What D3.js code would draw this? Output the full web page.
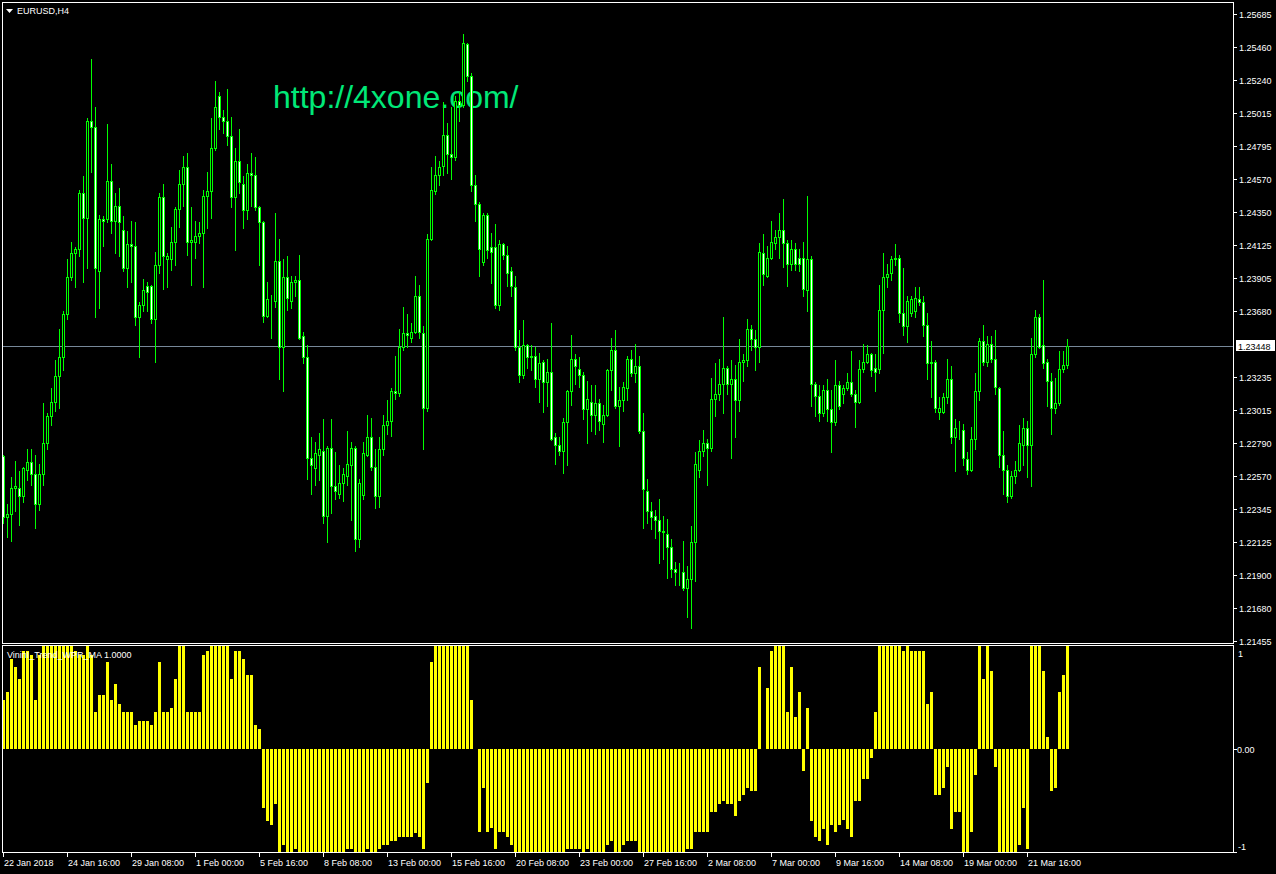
<!DOCTYPE html>
<html>
<head>
<meta charset="utf-8">
<script src="https://cdn.jsdelivr.net/npm/d3@7"></script>
<style>
  html, body { margin: 0; padding: 0; background: #000; }
  svg { display: block; }
  text { font-family: "Liberation Sans", Arial, sans-serif; font-size: 9px; fill: #fff; }
</style>
</head>
<body>
<svg id="chart" width="1276" height="874"></svg>
<script>
// EURUSD H4 candles (one value per bar)
const opens = [
  1.2270,1.2229,1.2231,1.2249,1.2249,1.2243,1.2261,1.2266,1.2258,1.2238,
  1.2258,1.2279,1.2297,1.2307,1.2324,1.2337,1.2366,1.2391,1.2407,1.2410,
  1.2448,1.2431,1.2496,1.2492,1.2395,1.2430,1.2430,1.2456,1.2429,1.2439,
  1.2423,1.2397,1.2413,1.2412,1.2364,1.2372,1.2385,1.2385,1.2363,1.2399,
  1.2445,1.2403,1.2403,1.2415,1.2437,1.2454,1.2465,1.2415,1.2415,1.2419,
  1.2421,1.2446,1.2449,1.2478,1.2513,1.2499,1.2496,1.2486,1.2445,1.2469,
  1.2454,1.2436,1.2461,1.2460,1.2438,1.2428,1.2365,1.2376,1.2375,1.2402,
  1.2344,1.2391,1.2375,1.2388,1.2389,1.2351,1.2337,1.2269,1.2262,1.2271,
  1.2274,1.2230,1.2276,1.2250,1.2245,1.2252,1.2257,1.2264,1.2276,1.2214,
  1.2244,1.2271,1.2283,1.2263,1.2243,1.2275,1.2291,1.2294,1.2314,1.2313,
  1.2344,1.2353,1.2350,1.2354,1.2378,1.2353,1.2303,1.2417,1.2449,1.2460,
  1.2466,1.2487,1.2474,1.2472,1.2510,1.2507,1.2548,1.2527,1.2453,1.2440,
  1.2401,1.2433,1.2411,1.2411,1.2372,1.2413,1.2406,1.2395,1.2384,1.2344,
  1.2325,1.2345,1.2338,1.2338,1.2322,1.2334,1.2320,1.2327,1.2283,1.2278,
  1.2274,1.2293,1.2314,1.2336,1.2329,1.2325,1.2302,1.2307,1.2298,1.2306,
  1.2292,1.2298,1.2328,1.2342,1.2304,1.2308,1.2316,1.2336,1.2326,1.2331,
  1.2287,1.2247,1.2233,1.2230,1.2227,1.2220,1.2218,1.2209,1.2194,1.2192,
  1.2192,1.2181,1.2187,1.2212,1.2261,1.2274,1.2279,1.2276,1.2309,1.2312,
  1.2319,1.2330,1.2319,1.2322,1.2308,1.2334,1.2335,1.2356,1.2349,1.2344,
  1.2407,1.2392,1.2404,1.2414,1.2418,1.2423,1.2414,1.2400,1.2410,1.2404,
  1.2404,1.2382,1.2403,1.2319,1.2311,1.2299,1.2315,1.2302,1.2293,1.2318,
  1.2312,1.2316,1.2320,1.2312,1.2307,1.2329,1.2334,1.2339,1.2330,1.2329,
  1.2369,1.2391,1.2394,1.2403,1.2404,1.2367,1.2358,1.2367,1.2368,1.2376,
  1.2374,1.2359,1.2334,1.2334,1.2300,1.2300,1.2310,1.2322,1.2283,1.2289,
  1.2288,1.2268,1.2261,1.2282,1.2314,1.2348,1.2334,1.2346,1.2336,1.2316,
  1.2271,1.2261,1.2243,1.2257,1.2261,1.2278,1.2289,1.2278,1.2339,1.2364,
  1.2345,1.2334,1.2321,1.2303,1.2306,1.2329,1.2332
];
const highs = [
  1.2271,1.2238,1.2256,1.2267,1.2260,1.2263,1.2275,1.2275,1.2271,1.2265,
  1.2306,1.2299,1.2316,1.2335,1.2356,1.2368,1.2403,1.2415,1.2411,1.2450,
  1.2459,1.2498,1.2538,1.2506,1.2433,1.2432,1.2494,1.2467,1.2448,1.2451,
  1.2432,1.2422,1.2429,1.2428,1.2374,1.2390,1.2388,1.2386,1.2408,1.2448,
  1.2454,1.2407,1.2425,1.2438,1.2463,1.2473,1.2475,1.2438,1.2429,1.2428,
  1.2450,1.2462,1.2498,1.2523,1.2516,1.2504,1.2518,1.2499,1.2478,1.2491,
  1.2459,1.2467,1.2475,1.2472,1.2439,1.2429,1.2388,1.2379,1.2434,1.2417,
  1.2403,1.2405,1.2392,1.2392,1.2406,1.2354,1.2345,1.2283,1.2280,1.2286,
  1.2295,1.2277,1.2295,1.2273,1.2264,1.2262,1.2287,1.2280,1.2277,1.2255,
  1.2280,1.2298,1.2296,1.2275,1.2283,1.2298,1.2308,1.2316,1.2338,1.2356,
  1.2371,1.2366,1.2360,1.2392,1.2386,1.2358,1.2420,1.2465,1.2473,1.2469,
  1.2509,1.2495,1.2506,1.2513,1.2516,1.2555,1.2549,1.2529,1.2460,1.2442,
  1.2434,1.2434,1.2421,1.2427,1.2416,1.2414,1.2412,1.2398,1.2392,1.2355,
  1.2362,1.2346,1.2345,1.2344,1.2340,1.2335,1.2336,1.2360,1.2286,1.2283,
  1.2296,1.2315,1.2352,1.2339,1.2337,1.2327,1.2321,1.2318,1.2318,1.2309,
  1.2305,1.2329,1.2350,1.2355,1.2317,1.2320,1.2338,1.2342,1.2346,1.2338,
  1.2299,1.2255,1.2239,1.2234,1.2241,1.2230,1.2228,1.2214,1.2199,1.2198,
  1.2213,1.2196,1.2223,1.2273,1.2281,1.2288,1.2282,1.2323,1.2333,1.2336,
  1.2364,1.2331,1.2335,1.2332,1.2349,1.2339,1.2363,1.2359,1.2355,1.2414,
  1.2420,1.2412,1.2429,1.2423,1.2434,1.2444,1.2416,1.2416,1.2414,1.2410,
  1.2415,1.2446,1.2405,1.2320,1.2318,1.2318,1.2322,1.2315,1.2335,1.2321,
  1.2318,1.2326,1.2341,1.2315,1.2335,1.2346,1.2345,1.2340,1.2339,1.2386,
  1.2407,1.2400,1.2405,1.2413,1.2406,1.2397,1.2378,1.2378,1.2384,1.2384,
  1.2378,1.2367,1.2348,1.2335,1.2310,1.2313,1.2336,1.2331,1.2295,1.2294,
  1.2292,1.2273,1.2290,1.2326,1.2350,1.2359,1.2351,1.2351,1.2355,1.2317,
  1.2287,1.2264,1.2260,1.2267,1.2291,1.2296,1.2294,1.2350,1.2369,1.2366,
  1.2389,1.2336,1.2326,1.2323,1.2341,1.2341,1.2349
];
const lows = [
  1.2225,1.2216,1.2213,1.2233,1.2224,1.2239,1.2254,1.2251,1.2222,1.2234,
  1.2251,1.2275,1.2291,1.2301,1.2303,1.2328,1.2363,1.2389,1.2384,1.2405,
  1.2388,1.2397,1.2462,1.2364,1.2370,1.2412,1.2428,1.2421,1.2407,1.2405,
  1.2395,1.2384,1.2388,1.2359,1.2337,1.2368,1.2368,1.2360,1.2334,1.2394,
  1.2383,1.2384,1.2396,1.2399,1.2425,1.2439,1.2406,1.2386,1.2404,1.2414,
  1.2384,1.2424,1.2431,1.2477,1.2491,1.2488,1.2480,1.2438,1.2409,1.2448,
  1.2424,1.2430,1.2439,1.2436,1.2399,1.2361,1.2364,1.2350,1.2371,1.2322,
  1.2314,1.2369,1.2370,1.2378,1.2349,1.2333,1.2255,1.2245,1.2251,1.2254,
  1.2225,1.2212,1.2232,1.2241,1.2242,1.2240,1.2251,1.2227,1.2206,1.2209,
  1.2241,1.2270,1.2261,1.2235,1.2236,1.2271,1.2285,1.2284,1.2309,1.2311,
  1.2342,1.2344,1.2347,1.2353,1.2350,1.2275,1.2301,1.2416,1.2447,1.2453,
  1.2460,1.2461,1.2457,1.2470,1.2496,1.2506,1.2523,1.2449,1.2429,1.2392,
  1.2399,1.2404,1.2387,1.2370,1.2369,1.2403,1.2385,1.2378,1.2342,1.2320,
  1.2323,1.2330,1.2328,1.2317,1.2307,1.2300,1.2304,1.2281,1.2265,1.2271,
  1.2259,1.2264,1.2305,1.2319,1.2317,1.2295,1.2279,1.2287,1.2285,1.2288,
  1.2280,1.2297,1.2315,1.2303,1.2277,1.2301,1.2308,1.2324,1.2320,1.2286,
  1.2222,1.2225,1.2221,1.2215,1.2198,1.2201,1.2188,1.2189,1.2183,1.2183,
  1.2180,1.2162,1.2154,1.2186,1.2256,1.2270,1.2251,1.2274,1.2297,1.2308,
  1.2299,1.2312,1.2269,1.2283,1.2301,1.2321,1.2331,1.2342,1.2328,1.2334,
  1.2386,1.2391,1.2403,1.2410,1.2404,1.2398,1.2385,1.2396,1.2396,1.2395,
  1.2378,1.2368,1.2304,1.2297,1.2294,1.2297,1.2294,1.2273,1.2291,1.2302,
  1.2306,1.2315,1.2311,1.2290,1.2306,1.2327,1.2333,1.2324,1.2314,1.2326,
  1.2340,1.2384,1.2389,1.2399,1.2361,1.2352,1.2347,1.2365,1.2364,1.2372,
  1.2351,1.2322,1.2310,1.2300,1.2295,1.2299,1.2306,1.2279,1.2260,1.2282,
  1.2264,1.2258,1.2260,1.2275,1.2308,1.2332,1.2331,1.2334,1.2312,1.2263,
  1.2245,1.2239,1.2242,1.2252,1.2260,1.2264,1.2256,1.2250,1.2337,1.2343,
  1.2330,1.2304,1.2285,1.2299,1.2305,1.2327,1.2330
];
const closes = [
  1.2229,1.2231,1.2249,1.2250,1.2243,1.2262,1.2266,1.2258,1.2238,1.2258,
  1.2279,1.2297,1.2307,1.2324,1.2337,1.2366,1.2391,1.2407,1.2410,1.2448,
  1.2431,1.2496,1.2492,1.2397,1.2430,1.2429,1.2456,1.2429,1.2439,1.2428,
  1.2397,1.2413,1.2412,1.2364,1.2372,1.2382,1.2381,1.2363,1.2399,1.2445,
  1.2405,1.2405,1.2415,1.2437,1.2454,1.2465,1.2415,1.2416,1.2419,1.2421,
  1.2446,1.2449,1.2478,1.2506,1.2499,1.2496,1.2486,1.2445,1.2469,1.2455,
  1.2436,1.2461,1.2460,1.2438,1.2428,1.2365,1.2376,1.2376,1.2402,1.2344,
  1.2391,1.2377,1.2388,1.2389,1.2350,1.2337,1.2269,1.2264,1.2272,1.2275,
  1.2230,1.2276,1.2250,1.2247,1.2252,1.2258,1.2265,1.2276,1.2214,1.2252,
  1.2272,1.2283,1.2263,1.2243,1.2275,1.2291,1.2294,1.2314,1.2313,1.2344,
  1.2353,1.2352,1.2354,1.2378,1.2354,1.2303,1.2417,1.2450,1.2460,1.2465,
  1.2487,1.2474,1.2472,1.2510,1.2507,1.2549,1.2527,1.2453,1.2440,1.2410,
  1.2433,1.2409,1.2408,1.2372,1.2413,1.2406,1.2394,1.2385,1.2344,1.2325,
  1.2345,1.2337,1.2337,1.2322,1.2333,1.2320,1.2327,1.2282,1.2278,1.2274,
  1.2293,1.2314,1.2336,1.2331,1.2325,1.2302,1.2309,1.2298,1.2306,1.2294,
  1.2298,1.2328,1.2342,1.2304,1.2308,1.2317,1.2336,1.2326,1.2331,1.2287,
  1.2248,1.2233,1.2229,1.2227,1.2220,1.2219,1.2209,1.2194,1.2192,1.2192,
  1.2181,1.2187,1.2212,1.2265,1.2274,1.2279,1.2276,1.2309,1.2312,1.2319,
  1.2330,1.2319,1.2322,1.2308,1.2334,1.2335,1.2356,1.2349,1.2344,1.2408,
  1.2393,1.2404,1.2415,1.2418,1.2423,1.2414,1.2400,1.2410,1.2400,1.2400,
  1.2383,1.2403,1.2319,1.2311,1.2299,1.2315,1.2302,1.2293,1.2318,1.2304,
  1.2316,1.2320,1.2312,1.2307,1.2329,1.2334,1.2339,1.2328,1.2327,1.2369,
  1.2391,1.2393,1.2403,1.2404,1.2367,1.2358,1.2375,1.2376,1.2377,1.2374,
  1.2359,1.2333,1.2333,1.2303,1.2303,1.2310,1.2322,1.2283,1.2289,1.2289,
  1.2269,1.2261,1.2282,1.2314,1.2348,1.2334,1.2346,1.2336,1.2317,1.2271,
  1.2261,1.2243,1.2257,1.2261,1.2279,1.2289,1.2278,1.2339,1.2364,1.2344,
  1.2333,1.2321,1.2303,1.2306,1.2329,1.2332,1.23448
];

// VininI_Trend_WPR_MA histogram (-1 .. 1), one value per bar
const trend = [
  0.48,0.55,0.87,0.80,0.68,0.95,0.95,0.91,0.48,0.91,
  1,1,1,1,1,1,1,1,0.95,0.91,
  0.91,1,0.91,0.36,0.52,0.52,0.84,0.48,0.63,0.44,
  0.36,0.36,0.36,0.23,0.27,0.27,0.27,0.23,0.36,0.84,
  0.36,0.36,0.40,0.68,1,1,0.36,0.36,0.36,0.36,
  0.91,0.95,1,1,1,1,1,0.68,0.95,0.95,
  0.87,0.72,0.72,0.23,0.19,-0.57,-0.70,-0.74,-0.53,-1,
  -0.93,-1,-1,-0.97,-1,-1,-1,-1,-1,-1,
  -1,-1,-1,-1,-1,-1,-0.97,-0.97,-1,-1,
  -1,-0.97,-1,-1,-0.97,-0.93,-0.93,-0.89,-0.89,-0.85,
  -0.85,-0.85,-0.85,-0.82,-0.85,-0.97,-0.33,0.84,1,1,
  1,1,1,1,1,1,1,0.48,0,-0.81,
  -0.38,-0.81,-0.77,-0.97,-0.81,-0.81,-0.85,-0.93,-1,-1,
  -1,-1,-1,-1,-1,-1,-1,-1,-1,-1,
  -1,-0.97,-0.97,-0.97,-0.97,-1,-0.97,-1,-1,-1,
  -1,-0.93,-0.89,-1,-1,-0.93,-0.89,-0.89,-0.89,-1,
  -1,-1,-1,-1,-1,-1,-1,-1,-1,-1,
  -1,-0.97,-0.97,-0.81,-0.81,-0.81,-0.81,-0.61,-0.61,-0.53,
  -0.50,-0.53,-0.53,-0.65,-0.50,-0.45,-0.38,-0.41,-0.41,0.80,
  0,0.59,0.95,1,1,1,0.36,0.80,0.31,0.55,
  -0.21,0.40,-0.70,-0.85,-0.89,-0.78,-0.93,-0.74,-0.81,-0.74,
  -0.69,-0.78,-0.85,-0.50,-0.50,-0.29,-0.29,-0.09,0.36,1,
  1,1,1,1,1,0.95,1,0.95,0.95,0.95,
  0.95,0.44,0.55,-0.45,-0.45,-0.38,-0.17,-0.78,-0.61,-0.61,
  -1,-1,-0.81,-0.25,1,0.68,1,0.76,-0.17,-1,
  -1,-1,-1,-1,-0.93,-0.57,-0.97,1,1,1,
  0.76,0.12,-0.41,-0.38,0.55,0.72,1
];

// Axis labels
const priceTicks = [1.25685,1.25460,1.25240,1.25015,1.24795,1.24570,1.24350,1.24125,1.23905,1.23680,
  1.23235,1.23015,1.22790,1.22570,1.22345,1.22125,1.21900,1.21680,1.21455];
const timeLabels = ["22 Jan 2018","24 Jan 16:00","29 Jan 08:00","1 Feb 00:00","5 Feb 16:00","8 Feb 08:00",
  "13 Feb 00:00","15 Feb 16:00","20 Feb 08:00","23 Feb 00:00","27 Feb 16:00","2 Mar 08:00",
  "7 Mar 00:00","9 Mar 16:00","14 Mar 08:00","19 Mar 00:00","21 Mar 16:00"];
const barsPerLabel = 16;
const bidPrice = 1.23448;
const indTicks = [{ v: 1, t: "1" }, { v: 0, t: "0.00" }, { v: -1, t: "-1" }];

const candles = closes.map((c, i) => ({ i, o: opens[i], h: highs[i], l: lows[i], c }));

// Layout of the terminal window
const right = 1233;
const mainTop = 2, mainBottom = 643;
const indTop = 645, indBottom = 852;

const svg = d3.select("#chart");
svg.append("rect").attr("width", 1276).attr("height", 874).attr("fill", "#000");

// bar index -> pixel (4px per bar)
const x = d3.scaleLinear().domain([0, 307]).range([3, 1231]);
const y = d3.scaleLinear().domain([1.21455, 1.25685]).range([641, 14]);
const yi = d3.scaleLinear().domain([-1, 1]).range([852, 646]);

const px = v => Math.round(v);
const fmt = d3.format(".5f");

// clip for each pane
const defs = svg.append("defs");
defs.append("clipPath").attr("id", "clipMain")
  .append("rect").attr("x", 3).attr("y", mainTop + 1).attr("width", right - 3).attr("height", mainBottom - mainTop - 1);
defs.append("clipPath").attr("id", "clipInd")
  .append("rect").attr("x", 3).attr("y", indTop + 1).attr("width", right - 3).attr("height", indBottom - indTop - 1);

// bid line
svg.append("line")
  .attr("x1", 3).attr("x2", right)
  .attr("y1", px(y(bidPrice)) + 0.5).attr("y2", px(y(bidPrice)) + 0.5)
  .attr("stroke", "#778899").attr("stroke-width", 1);

// watermark
svg.append("text")
  .attr("x", 273).attr("y", 108)
  .style("font-size", "32px")
  .style("fill", "#00e878")
  .text("http://4xone.com/");

// candles
const cg = svg.append("g").attr("clip-path", "url(#clipMain)").attr("shape-rendering", "crispEdges");

cg.selectAll("line.wick")
  .data(candles)
  .join("line")
  .attr("class", "wick")
  .attr("x1", d => px(x(d.i)) + 0.5)
  .attr("x2", d => px(x(d.i)) + 0.5)
  .attr("y1", d => px(y(d.h)))
  .attr("y2", d => px(y(d.l)) + 1)
  .attr("stroke", "#00ff00");

cg.selectAll("rect.body")
  .data(candles)
  .join("rect")
  .attr("class", "body")
  .attr("x", d => px(x(d.i)) - 0.5)
  .attr("width", 2)
  .attr("y", d => px(y(Math.max(d.o, d.c))) + 0.5)
  .attr("height", d => px(y(Math.min(d.o, d.c))) - px(y(Math.max(d.o, d.c))))
  .attr("fill", d => (d.c >= d.o ? "#000" : "#fff"))
  .attr("stroke", "#00ff00")
  .attr("stroke-width", 1);

// indicator histogram
const hg = svg.append("g").attr("clip-path", "url(#clipInd)").attr("shape-rendering", "crispEdges");
hg.selectAll("rect")
  .data(trend.map((v, i) => ({ i, v })).filter(d => d.v !== 0))
  .join("rect")
  .attr("x", d => px(x(d.i)) - 1)
  .attr("width", 3)
  .attr("y", d => px(yi(Math.max(d.v, 0))))
  .attr("height", d => px(yi(Math.min(d.v, 0))) - px(yi(Math.max(d.v, 0))))
  .attr("fill", "#ffff00");

// pane frames
const frame = svg.append("g").attr("fill", "none").attr("stroke", "#fff").attr("shape-rendering", "crispEdges");
frame.append("rect").attr("x", 2.5).attr("y", mainTop + 0.5).attr("width", right - 2).attr("height", mainBottom - mainTop);
frame.append("rect").attr("x", 2.5).attr("y", indTop + 0.5).attr("width", right - 2).attr("height", indBottom - indTop);

// price axis
const pa = svg.append("g");
pa.selectAll("line")
  .data(priceTicks)
  .join("line")
  .attr("x1", right).attr("x2", right + 4)
  .attr("y1", d => px(y(d)) + 0.5).attr("y2", d => px(y(d)) + 0.5)
  .attr("stroke", "#fff").attr("shape-rendering", "crispEdges");
pa.selectAll("text")
  .data(priceTicks)
  .join("text")
  .attr("x", right + 6)
  .attr("y", d => px(y(d)) + 3.5)
  .text(d => fmt(d));

// bid price box
const by = px(y(bidPrice));
svg.append("rect")
  .attr("x", right + 3).attr("y", by - 6).attr("width", 39).attr("height", 11)
  .attr("fill", "#fff");
svg.append("text")
  .attr("x", right + 5).attr("y", by + 3.5)
  .style("fill", "#000")
  .text(fmt(bidPrice));

// indicator axis
const ia = svg.append("g");
ia.selectAll("line")
  .data(indTicks.filter(d => d.v !== 1))
  .join("line")
  .attr("x1", right).attr("x2", right + 4)
  .attr("y1", d => px(yi(d.v)) + 0.5).attr("y2", d => px(yi(d.v)) + 0.5)
  .attr("stroke", "#fff").attr("shape-rendering", "crispEdges");
ia.selectAll("text")
  .data(indTicks)
  .join("text")
  .attr("x", d => (d.v === 0 ? right + 4 : right + 5))
  .attr("y", d => (d.v === 1 ? 657 : d.v === -1 ? 850 : px(yi(d.v)) + 3.5))
  .text(d => d.t);

// time axis
const ta = svg.append("g");
ta.selectAll("line")
  .data(timeLabels)
  .join("line")
  .attr("x1", (d, k) => px(x(k * barsPerLabel)) + 0.5)
  .attr("x2", (d, k) => px(x(k * barsPerLabel)) + 0.5)
  .attr("y1", indBottom).attr("y2", indBottom + 5)
  .attr("stroke", "#fff").attr("shape-rendering", "crispEdges");
ta.selectAll("text")
  .data(timeLabels)
  .join("text")
  .attr("x", (d, k) => px(x(k * barsPerLabel)) + 1)
  .attr("y", 866)
  .text(d => d);

// titles
svg.append("path").attr("d", "M6,9 L13,9 L9.5,13 Z").attr("fill", "#fff");
svg.append("text").attr("x", 17).attr("y", 14).text("EURUSD,H4");
svg.append("text").attr("x", 7).attr("y", 658).text("VininI_Trend_WPR_MA 1.0000");
</script>
</body>
</html>
